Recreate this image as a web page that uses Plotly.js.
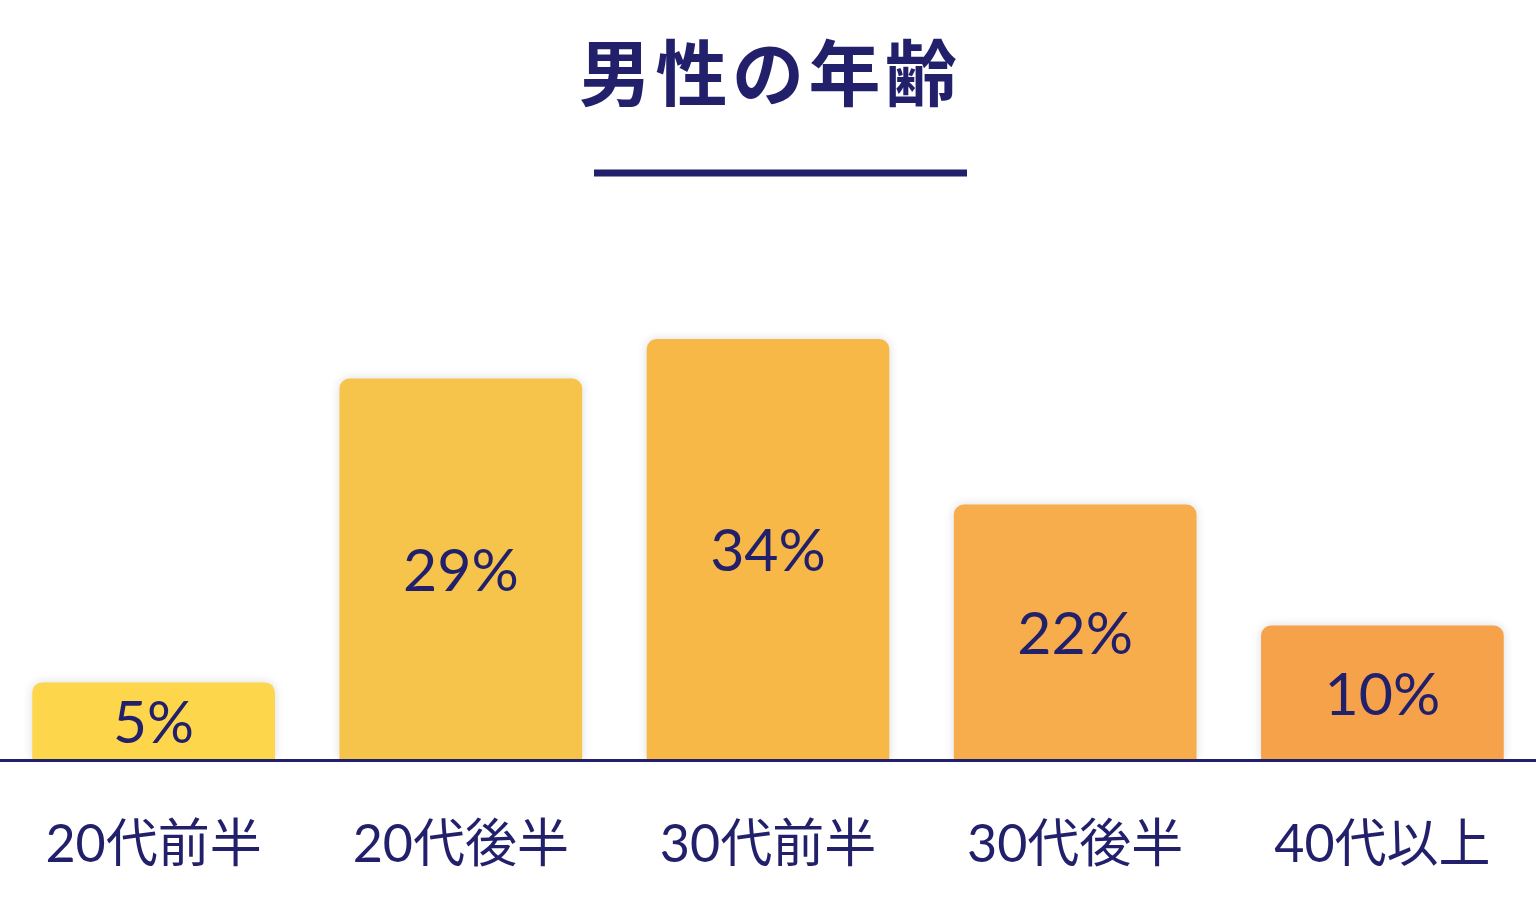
<!DOCTYPE html>
<html>
<head>
<meta charset="utf-8">
<script src="https://cdn.plot.ly/plotly-3.0.1.min.js"></script>
<style>
    html, body { margin: 0; padding: 0; background: #ffffff; }
    #chart { width: 1536px; height: 909px; }
    .barlayer .point path { filter: drop-shadow(0 0 5px rgba(0, 0, 0, 0.14)); }
</style>
</head>
<body>
<div id="chart"></div>
<script>
// age groups and share of men (%)
const categories = ["20代前半", "20代後半", "30代前半", "30代後半", "40代以上"];
const shares = [5, 29, 34, 22, 10];
// drawn bar heights (tallest bar scaled to 34)
const barHeights = [6.2, 30.8, 34, 20.6, 10.8];
const barColors = ["#fdd64c", "#f6c44b", "#f7b848", "#f7ad4b", "#f6a24a"];

const navy = "#221f6b";
const fontFamily = "Lato, \"Noto Sans CJK JP\", sans-serif";

const trace = {
    type: "bar",
    x: categories,
    y: barHeights,
    text: shares.map((v) => v + "%"),
    textposition: "inside",
    insidetextanchor: "middle",
    textangle: 0,
    textfont: { family: fontFamily, size: 59, color: navy },
    hoverinfo: "skip",
    marker: {
        color: barColors,
        cornerradius: 10,
        line: { width: 0 },
    },
};

const layout = {
    width: 1536,
    height: 909,
    margin: { t: 200, r: 0, b: 150, l: 0 },
    paper_bgcolor: "#ffffff",
    plot_bgcolor: "#ffffff",
    showlegend: false,
    bargap: 0.21,
    font: { family: fontFamily, color: navy },
    title: {
        text: "<b>男\u200a性\u200aの\u200a年\u200a齢</b>",
        font: { family: "\"Noto Sans CJK JP\", sans-serif", size: 72, color: navy },
        x: 0.5,
        xanchor: "center",
        y: 0.918,
        yanchor: "middle",
    },
    xaxis: {
        range: [-0.5, 4.5],
        showline: true,
        linecolor: navy,
        linewidth: 3,
        showgrid: false,
        zeroline: false,
        ticks: "",
        ticklabelstandoff: 38,
        tickfont: { family: fontFamily, size: 52, color: navy },
        fixedrange: true,
    },
    yaxis: {
        range: [0, 45.25],
        visible: false,
        fixedrange: true,
    },
    shapes: [
        {
            type: "line",
            xref: "paper",
            yref: "paper",
            x0: 594 / 1536,
            x1: 967 / 1536,
            y0: (759 - 173) / 559,
            y1: (759 - 173) / 559,
            line: { color: navy, width: 7 },
        },
    ],
};

Plotly.newPlot("chart", [trace], layout, { displayModeBar: false, staticPlot: true });
</script>
</body>
</html>
